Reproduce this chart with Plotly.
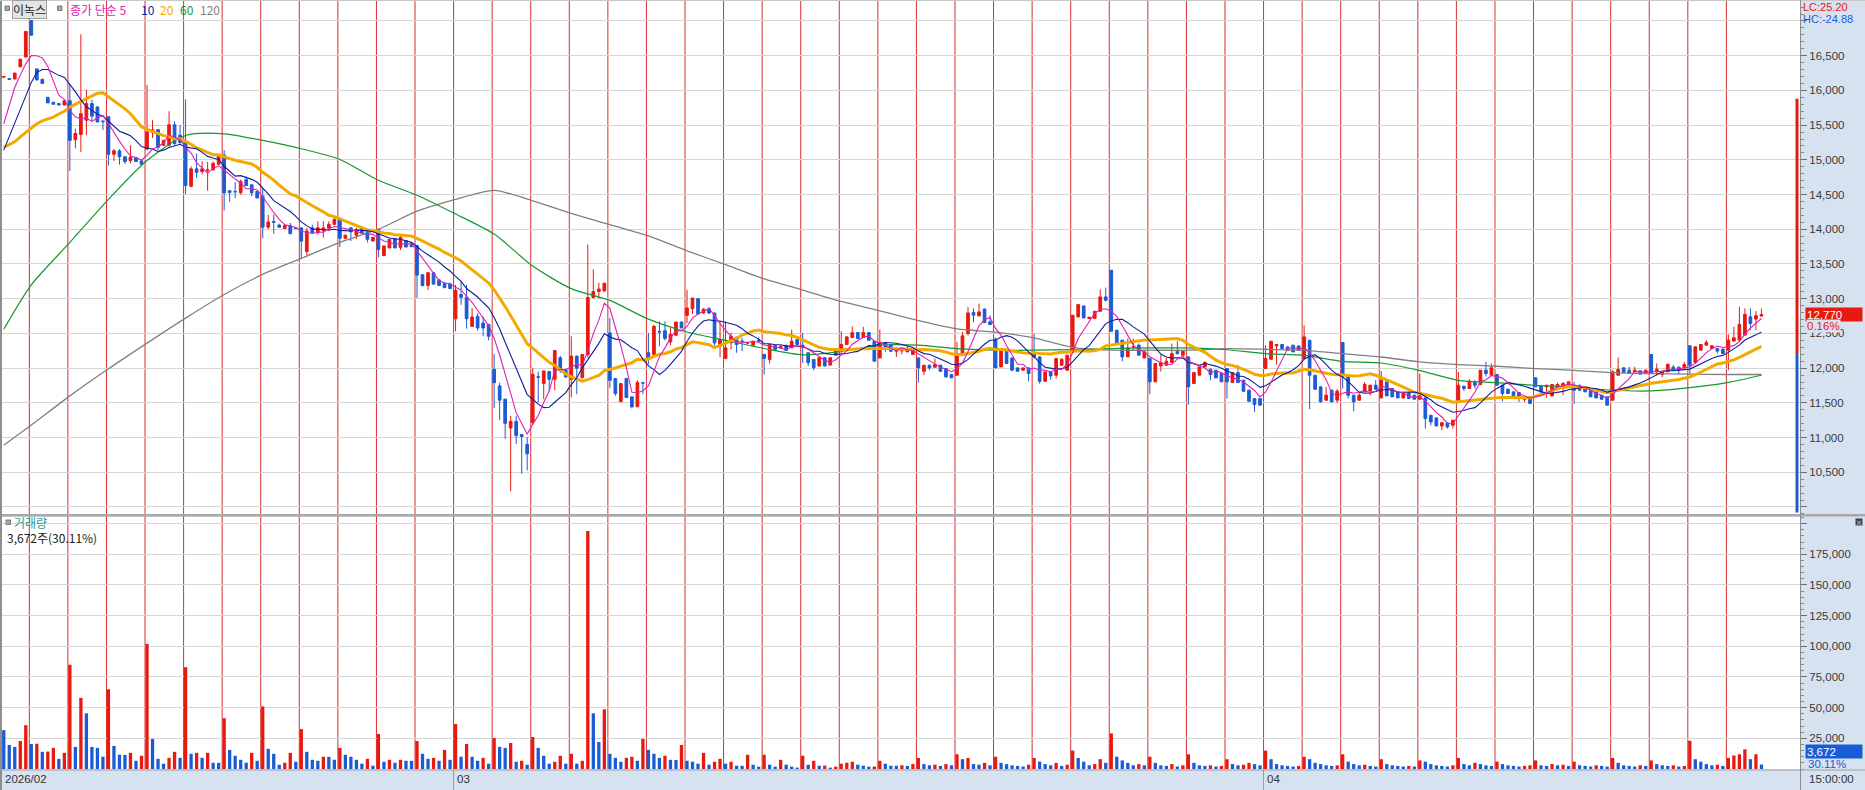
import plotly.graph_objects as go
import pandas as pd

# ---------------- DATA ----------------
trading_days = [
    "2026-02-09", "2026-02-10", "2026-02-11", "2026-02-12", "2026-02-13", "2026-02-19", "2026-02-20",
    "2026-02-23", "2026-02-24", "2026-02-25", "2026-02-26", "2026-02-27",
    "2026-03-03", "2026-03-04", "2026-03-05", "2026-03-06", "2026-03-09", "2026-03-10", "2026-03-11",
    "2026-03-12", "2026-03-13", "2026-03-16", "2026-03-17", "2026-03-18", "2026-03-19", "2026-03-20",
    "2026-03-23", "2026-03-24", "2026-03-25", "2026-03-26", "2026-03-27", "2026-03-30", "2026-03-31",
    "2026-04-01", "2026-04-02", "2026-04-03", "2026-04-06", "2026-04-07", "2026-04-08", "2026-04-09",
    "2026-04-10", "2026-04-13", "2026-04-14", "2026-04-15", "2026-04-16", "2026-04-17",
]
hours = ["09:00", "10:00", "11:00", "12:00", "13:00", "14:00", "15:00"]
first_day_hours = ["11:00", "12:00", "13:00", "14:00", "15:00"]

open_ = [
    16190, 16170, 16165, 16340, 16480,
    17005, 16310, 16160, 15900, 15830, 15810, 15790,
    15850, 15290, 15365, 15570, 15810, 15760, 15560,
    15620, 15080, 15130, 15045, 14990, 15030, 14985,
    15155, 15395, 15435, 15210, 15210, 15505, 15355,
    15250, 14620, 14870, 14830, 14850, 14855, 14935,
    15070, 14555, 14545, 14525, 14715, 14640, 14545,
    14475, 14030, 14110, 14060, 14010, 14055, 14020,
    14020, 13680, 14020, 13950, 13985, 14015, 14070,
    14140, 13870, 14020, 13915, 14020, 14000, 13830,
    14000, 13620, 13730, 13870, 13740, 13835, 13790,
    13765, 13345, 13190, 13375, 13270, 13220, 13210,
    12710, 13060, 13022, 12602, 12745, 12650, 12626,
    11982, 11744, 11553, 11138, 11233, 11043, 10900,
    11219, 11875, 11778, 11950, 11840, 12150, 11968,
    11840, 12173, 11863, 12197, 13017, 13103, 13112,
    12507, 11849, 11520, 11849, 11586, 11443, 11790,
    12221, 12197, 12530, 12540, 12378, 12474, 12664,
    12760, 12855, 13000, 12793, 12855, 12793, 12316,
    12140, 12364, 12445, 12390, 12370, 12330, 12400,
    12197, 12126, 12326, 12290, 12326, 12292, 12411,
    12330, 12221, 12126, 12030, 12150, 12044, 12187,
    12235, 12340, 12440, 12512, 12440, 12512, 12387,
    12147, 12368, 12339, 12243, 12248, 12282, 12195,
    12147, 11955, 12042, 12013, 12042, 11994, 11907,
    11898, 12195, 12498, 12802, 12752, 12850, 12666,
    12416, 12018, 12272, 12147, 12003, 11970, 12003,
    12210, 12162, 11811, 11946, 11898, 12042, 11970,
    12234, 12738, 12896, 12714, 12714, 12819, 13026,
    13410, 12546, 12402, 12162, 12306, 12330, 12147,
    12138, 11802, 12032, 12042, 12080, 12243, 12186,
    12162, 11778, 11898, 12018, 11984, 11970, 11922,
    11994, 11792, 11936, 11826, 11682, 11562, 11562,
    11994, 12128, 12320, 12339, 12306, 12330, 12320,
    12138, 12402, 11898, 11730, 11538, 11682, 11538,
    12370, 11874, 11610, 11538, 11658, 11672, 11754,
    11571, 11802, 11706, 11658, 11571, 11643, 11610,
    11552, 11571, 11321, 11283, 11167, 11210, 11177,
    11538, 11740, 11706, 11792, 11764, 11971, 11898,
    11908, 11754, 11696, 11658, 11648, 11552, 11586,
    11860, 11740, 11730, 11600, 11706, 11716, 11730,
    11754, 11754, 11716, 11682, 11658, 11610, 11586,
    11538, 11898, 12004, 11971, 11946, 11961, 11922,
    12196, 11946, 11908, 11946, 12014, 12014, 12004,
    12322, 12081, 12259, 12331, 12283, 12283, 12274,
    12259, 12389, 12403, 12476, 12740, 12706, 12750,
]
high = [
    16200, 16175, 16250, 16450, 16850,
    17010, 16310, 16165, 15900, 15830, 15810, 15850,
    16090, 15450, 16808, 16012, 15865, 15775, 15560,
    15620, 15155, 15155, 15045, 15212, 15030, 14985,
    16080, 15570, 15435, 15290, 15700, 15555, 15500,
    15870, 14905, 15090, 14980, 14970, 14975, 15080,
    15140, 14560, 14680, 14715, 14760, 14640, 14545,
    14595, 14210, 14210, 14080, 14075, 14090, 14020,
    14020, 14020, 14065, 14115, 14115, 14115, 14175,
    14160, 13915, 14020, 14020, 14020, 14000, 13885,
    14000, 13760, 13855, 13870, 13915, 13840, 13800,
    13775, 13350, 13380, 13380, 13290, 13240, 13230,
    13200, 13256, 13200, 12865, 12790, 12745, 12640,
    12206, 11790, 11560, 11314, 11314, 11050, 11004,
    12006, 11950, 11960, 11960, 12254, 12175, 11990,
    12459, 12180, 12200, 13780, 13423, 13230, 13230,
    12722, 11860, 11777, 11860, 11590, 11825, 11795,
    12507, 12626, 12674, 12674, 12578, 12664, 12670,
    13127, 13017, 13010, 12860, 12880, 12800, 12674,
    12674, 12510, 12450, 12440, 12380, 12390, 12440,
    12200, 12340, 12330, 12330, 12340, 12555, 12415,
    12507, 12225, 12130, 12150, 12155, 12150, 12269,
    12530, 12460, 12600, 12520, 12594, 12520, 12402,
    12555, 12370, 12345, 12260, 12290, 12330, 12260,
    12150, 12042, 12050, 12138, 12050, 12000, 11910,
    12378, 12522, 12882, 12860, 12930, 12860, 12760,
    12440, 12290, 12280, 12150, 12010, 12003, 12010,
    12498, 12170, 11946, 11950, 12140, 12140, 12186,
    12762, 12915, 12900, 12740, 12819, 13136, 13160,
    13410, 12550, 12405, 12426, 12426, 12354, 12258,
    12140, 12066, 12195, 12150, 12354, 12388, 12243,
    12165, 11936, 12018, 12099, 11990, 11975, 11925,
    12000, 11936, 12042, 11830, 11690, 11565, 11565,
    12330, 12387, 12339, 12345, 12310, 12335, 12325,
    12618, 12405, 11900, 11735, 11730, 11690, 11700,
    12375, 11880, 11615, 11650, 11800, 11754, 11826,
    11956, 11805, 11710, 11660, 11643, 11650, 11615,
    11922, 11575, 11325, 11290, 11215, 11215, 11250,
    11946, 11745, 11840, 11830, 11971, 12091, 12067,
    11915, 11760, 11700, 11660, 11650, 11571, 11590,
    11865, 11745, 11760, 11764, 11790, 11800, 11802,
    11802, 11760, 11720, 11690, 11660, 11615, 11590,
    11970, 12153, 12010, 12018, 12018, 11965, 11975,
    12200, 12067, 11960, 12057, 12043, 12018, 12091,
    12325, 12307, 12341, 12404, 12322, 12290, 12280,
    12485, 12596, 12884, 12860, 12860, 12822, 12860,
]
low = [
    16185, 16160, 16160, 16340, 16480,
    16795, 16150, 16100, 15820, 15800, 15790, 15785,
    14840, 15165, 15115, 15355, 15555, 15545, 15430,
    14918, 14985, 14930, 14940, 14950, 14975, 14935,
    15140, 15315, 15140, 15200, 15190, 15210, 15230,
    14505, 14605, 14735, 14790, 14555, 14850, 14930,
    14270, 14395, 14450, 14500, 14630, 14475, 14450,
    13870, 14000, 13935, 14030, 14010, 13935, 14010,
    13570, 13620, 13935, 13925, 13880, 13975, 14070,
    13745, 13860, 13830, 13860, 13945, 13810, 13830,
    13595, 13620, 13730, 13730, 13700, 13735, 13740,
    13010, 13175, 13125, 13200, 13185, 13150, 13140,
    12530, 12912, 12570, 12600, 12540, 12460, 12400,
    11424, 11252, 10980, 10227, 10909, 10480, 10527,
    11181, 11505, 11553, 11672, 11682, 11930, 11860,
    11577, 11625, 11850, 12150, 13000, 13000, 13100,
    11710, 11600, 11505, 11577, 11420, 11440, 11625,
    12054, 12190, 12316, 12400, 12330, 12470, 12578,
    12650, 12780, 12780, 12780, 12780, 12326, 12159,
    12130, 12270, 12221, 12245, 12350, 12330, 12380,
    11911, 12064, 12260, 12280, 12250, 12290, 12340,
    12078, 12030, 11968, 12025, 12030, 12040, 12185,
    12230, 12335, 12430, 12426, 12435, 12402, 12099,
    12140, 12234, 12243, 12162, 12200, 12230, 12195,
    11792, 11898, 11970, 12010, 11950, 11860, 11859,
    11890, 12190, 12470, 12660, 12752, 12656, 12620,
    12003, 12015, 12066, 11955, 11955, 11965, 11811,
    12140, 11778, 11800, 11830, 11850, 12040, 11965,
    12230, 12735, 12723, 12714, 12710, 12815, 12960,
    12531, 12368, 12099, 12160, 12258, 12186, 12140,
    11624, 11800, 11950, 12040, 12075, 12195, 12185,
    11475, 11775, 11898, 12015, 11826, 11859, 11802,
    11562, 11790, 11792, 11667, 11523, 11370, 11466,
    11990, 12125, 12050, 12282, 12258, 12234, 12258,
    12135, 11410, 11696, 11504, 11535, 11514, 11500,
    11706, 11562, 11379, 11535, 11655, 11610, 11690,
    11565, 11600, 11586, 11571, 11565, 11562, 11552,
    11550, 11129, 11177, 11167, 11105, 11129, 11129,
    11535, 11672, 11700, 11706, 11760, 11880, 11895,
    11754, 11523, 11634, 11571, 11514, 11514, 11490,
    11730, 11610, 11571, 11595, 11700, 11610, 11725,
    11485, 11682, 11658, 11586, 11571, 11552, 11466,
    11535, 11895, 11937, 11920, 11940, 11913, 11920,
    11937, 11898, 11870, 11945, 11971, 11913, 12000,
    11922, 12078, 12255, 12330, 12280, 12211, 12211,
    11970, 12385, 12400, 12470, 12548, 12548, 12745,
]
close = [
    16200, 16160, 16250, 16450, 16850,
    16795, 16150, 16100, 15820, 15800, 15790, 15850,
    15280, 15380, 15665, 15810, 15630, 15545, 15550,
    15080, 15130, 15045, 14975, 15040, 14975, 14935,
    15400, 15435, 15180, 15280, 15505, 15235, 15250,
    14630, 14870, 14820, 14870, 14855, 14950, 15070,
    14525, 14530, 14540, 14690, 14630, 14525, 14450,
    14030, 14105, 14100, 14030, 14055, 13935, 14010,
    13830, 13975, 13950, 14020, 14020, 14070, 14140,
    13870, 13915, 13965, 13985, 13945, 13855, 13885,
    13710, 13760, 13855, 13730, 13880, 13745, 13750,
    13340, 13190, 13375, 13210, 13190, 13160, 13145,
    13120, 13020, 12712, 12736, 12578, 12578, 12460,
    11790, 11539, 11205, 11233, 11028, 11015, 10766,
    11910, 11870, 11960, 11840, 12254, 11968, 11873,
    12173, 11997, 12197, 13017, 13103, 13140, 13222,
    11825, 11634, 11777, 11577, 11443, 11792, 11785,
    12126, 12602, 12520, 12426, 12483, 12664, 12578,
    12865, 13008, 12780, 12850, 12793, 12364, 12412,
    12292, 12459, 12340, 12385, 12360, 12388, 12390,
    12140, 12340, 12264, 12310, 12254, 12388, 12340,
    12300, 12078, 12006, 12150, 12030, 12150, 12269,
    12340, 12450, 12512, 12426, 12512, 12402, 12099,
    12368, 12306, 12243, 12258, 12282, 12234, 12258,
    12003, 12042, 12003, 12051, 11955, 11874, 11859,
    12210, 12464, 12795, 12762, 12810, 12656, 12627,
    12003, 12282, 12066, 11970, 11955, 12003, 11922,
    12162, 11811, 11946, 11888, 12138, 12128, 12186,
    12762, 12915, 12723, 12733, 12819, 13026, 12978,
    12531, 12368, 12162, 12291, 12306, 12186, 12234,
    11802, 12066, 12080, 12099, 12210, 12210, 12243,
    11730, 11936, 12018, 12080, 11907, 11859, 11802,
    11802, 11936, 11792, 11667, 11523, 11475, 11466,
    12138, 12387, 12339, 12282, 12258, 12234, 12258,
    12450, 11898, 11696, 11515, 11610, 11514, 11667,
    11884, 11610, 11514, 11610, 11764, 11754, 11696,
    11826, 11600, 11586, 11571, 11643, 11562, 11552,
    11600, 11273, 11225, 11167, 11215, 11153, 11249,
    11754, 11706, 11812, 11754, 11971, 11922, 12004,
    11754, 11634, 11634, 11571, 11571, 11571, 11490,
    11730, 11658, 11754, 11764, 11764, 11778, 11802,
    11682, 11682, 11658, 11586, 11571, 11552, 11466,
    11946, 11980, 11937, 11922, 11971, 11913, 11971,
    11937, 11985, 11956, 12057, 11971, 11971, 12052,
    12043, 12307, 12341, 12370, 12322, 12245, 12211,
    12403, 12437, 12629, 12774, 12644, 12755, 12770,
]
volume = [
    31700, 19600, 18000, 22800, 35700,
    20400, 20600, 14000, 14200, 17200, 8300, 13200,
    85000, 18000, 58000, 45400, 18000, 17200, 10000,
    65000, 18800, 11600, 11500, 13200, 6700, 10800,
    102000, 24500, 8300, 4300, 9100, 14000, 9100,
    83000, 12400, 13200, 9100, 13200, 5100, 5000,
    41400, 15600, 10800, 7500, 5100, 13200, 6700,
    51000, 16400, 12400, 3500, 5100, 13200, 5900,
    32500, 14000, 7500, 6700, 10000, 9900, 7500,
    17200, 11600, 10000, 7500, 4300, 8300, 2700,
    28500, 5900, 7500, 5100, 7500, 6700, 6600,
    22800, 12400, 8300, 9100, 6700, 15600, 7500,
    36600, 10000, 20400, 10000, 6700, 9100, 4300,
    25300, 18000, 17200, 21200, 5900, 6700, 3500,
    26100, 17200, 10800, 4300, 5900, 10800, 4300,
    12400, 4300, 6700, 194000, 45400, 22000, 48600,
    12400, 9100, 5900, 9100, 10000, 6700, 24500,
    15600, 12400, 9100, 10800, 7500, 7400, 19600,
    6700, 5900, 4300, 13200, 3500, 5900, 8300,
    4300, 5900, 2700, 2600, 11600, 3500, 1900,
    11600, 3500, 1900, 7500, 3500, 1900, 1100,
    10800, 3500, 6700, 2700, 2800, 1100, 1900,
    4300, 5100, 5900, 3500, 2700, 1900, 2000,
    6700, 4300, 2700, 2600, 3000, 2500, 4000,
    9000, 4000, 3000, 3500, 2500, 4000, 3000,
    12000, 8000, 9000, 4000, 3500, 5000, 3000,
    10000, 5000, 4000, 3000, 2500, 2000, 3500,
    9000, 6000, 4000, 3000, 5000, 2500, 3500,
    15000, 9000, 6000, 3000, 4000, 8000, 5000,
    29000, 10000, 7000, 5000, 3000, 4000, 3000,
    10000, 5000, 3000, 2500, 4000, 2000, 3000,
    12000, 5000, 3000, 2500, 3000, 2000, 2500,
    8000, 4000, 3000, 3500, 5000, 4000, 3000,
    15000, 8000, 4000, 3000, 2500, 2000, 2500,
    10000, 8000, 5000, 4000, 3000, 2500, 3000,
    12000, 6000, 4000, 3000, 3500, 2500, 2000,
    8000, 4000, 3000, 2500, 2000, 2500, 2000,
    7000, 6000, 4000, 3000, 2500, 2000, 3000,
    9000, 4000, 3000, 5000, 4000, 3000, 2500,
    6000, 4000, 3000, 2500, 2000, 2500, 3000,
    7000, 3000, 2500, 4000, 3000, 3500, 2500,
    6000, 3000, 2500, 2000, 3000, 2500, 2000,
    9000, 5000, 3000, 2500, 2000, 3000, 2500,
    7000, 4000, 3000, 2500, 3000, 2000, 2500,
    23000, 8000, 6000, 4000, 3000, 3500, 2500,
    9000, 11000, 12000, 16000, 8000, 12000, 3672,
]

ma5_head = [15520, 15790, 16045, 16220]
ma10_head = [15140, 15330, 15545, 15735, 15925, 16115, 16260, 16300, 16300]
ma20_head = [15180, 15220, 15260, 15330, 15390, 15450, 15520, 15560, 15590, 15615,
             15660, 15700, 15760, 15800, 15845, 15885, 15925, 15960, 15965]
# 60 / 120 averages read at the first bar, every session's first bar, and the last bar
ma60_read = [12560, 13200, 13810, 14430, 14990, 15350, 15375, 15280, 15160, 15005, 14705, 14490,
             14220, 13930, 13470, 13145, 12975, 12705, 12520, 12400, 12283, 12190, 12240, 12330,
             12330, 12282, 12258, 12258, 12267, 12282, 12291, 12291, 12265, 12208, 12184, 12098,
             12074, 11965, 11824, 11790, 11752, 11728, 11681, 11672, 11718, 11795, 11898]
ma120_read = [10890, 11180, 11600, 11990, 12360, 12720, 13060, 13350, 13580, 13810, 14000, 14260,
              14430, 14560, 14410, 14230, 14066, 13905, 13690, 13490, 13285, 13125, 12960, 12825,
              12685, 12565, 12518, 12435, 12300, 12258, 12258, 12258, 12280, 12272, 12256, 12209,
              12160, 12090, 12051, 12027, 11993, 11969, 11936, 11921, 11913, 11908, 11908]

lc_hc_text = ("LC:25.20", "HC:-24.88")
range_bar = [15880, 12200, 9920]
last_price, last_change = "12,770", "0.16%"
last_volume, last_vol_ratio = "3,672", "30.11%"

# ---------------- BUILD ----------------
dates, times = [], []
for di, d in enumerate(trading_days):
    hs = first_day_hours if di == 0 else hours
    for h in hs:
        dates.append(d)
        times.append(h)
n = len(close)
xs = list(range(n))

s = pd.Series(close, dtype=float)
ma5 = s.rolling(5).mean().tolist()
ma10 = s.rolling(10).mean().tolist()
ma20 = s.rolling(20).mean().tolist()
ma5[:len(ma5_head)] = ma5_head
ma10[:len(ma10_head)] = ma10_head
ma20[:len(ma20_head)] = ma20_head

day_starts = [i for i in range(1, n) if dates[i] != dates[i - 1]]
sample_idx = [0] + day_starts + [n - 1]

RED = "#E8190F"
BLUE = "#1A5CD6"
vol_colors = [RED if (i > 0 and v > volume[i - 1]) else BLUE for i, v in enumerate(volume)]

W, H = 1865, 790
ML, MR, MT, MB = 2, 65, 0, 21
PW = W - ML - MR
PH = H - MT - MB


def ax(px):
    return (px - ML) / PW


def ay(py):
    return (PH + MT - py) / PH


fig = go.Figure()
fig.add_trace(go.Candlestick(
    x=xs, open=open_, high=high, low=low, close=close,
    increasing=dict(line=dict(color=RED, width=1), fillcolor=RED),
    decreasing=dict(line=dict(color=BLUE, width=1), fillcolor=BLUE),
    whiskerwidth=0, hoverinfo="skip", xaxis="x", yaxis="y"))

fig.add_trace(go.Scatter(x=[xs[i] for i in sample_idx], y=ma120_read, mode="lines",
                         line=dict(color="#808080", width=1.3, shape="spline", smoothing=0.7),
                         hoverinfo="skip"))
fig.add_trace(go.Scatter(x=[xs[i] for i in sample_idx], y=ma60_read, mode="lines",
                         line=dict(color="#14982F", width=1.2, shape="spline", smoothing=0.7),
                         hoverinfo="skip"))
fig.add_trace(go.Scatter(x=xs, y=ma20, mode="lines", line=dict(color="#F2A900", width=3),
                         hoverinfo="skip"))
fig.add_trace(go.Scatter(x=xs, y=ma10, mode="lines", line=dict(color="#0B1E9C", width=1.1),
                         hoverinfo="skip"))
fig.add_trace(go.Scatter(x=xs, y=ma5, mode="lines", line=dict(color="#E21DB4", width=1.1),
                         hoverinfo="skip"))

fig.add_trace(go.Bar(x=xs, y=volume, width=0.6, marker=dict(color=vol_colors, line=dict(width=0)),
                     xaxis="x", yaxis="y2", hoverinfo="skip"))

shapes = []
for i in day_starts:
    shapes.append(dict(type="line", xref="x", yref="paper", x0=i - 0.36, x1=i - 0.36, y0=0, y1=1,
                       line=dict(color="#DB2E2E", width=1), layer="between"))
# panel separator
shapes.append(dict(type="rect", xref="paper", yref="paper", x0=ax(0), x1=ax(W), y0=ay(516.5), y1=ay(514),
                   fillcolor="#A9A9A9", line=dict(width=0), layer="above"))
# left border
shapes.append(dict(type="rect", xref="paper", yref="paper", x0=ax(0), x1=ax(2), y0=ay(H), y1=ay(0),
                   fillcolor="#8E8E8E", line=dict(width=0), layer="above"))
# top border
shapes.append(dict(type="line", xref="paper", yref="paper", x0=ax(0), x1=ax(W), y0=ay(0.5), y1=ay(0.5),
                   line=dict(color="#C8C8C8", width=1), layer="above"))
# bottom row border and dividers
shapes.append(dict(type="line", xref="paper", yref="paper", x0=ax(0), x1=ax(W), y0=ay(770), y1=ay(770),
                   line=dict(color="#A0A0A0", width=1), layer="above"))
shapes.append(dict(type="line", xref="paper", yref="paper", x0=ax(1800.5), x1=ax(1800.5), y0=ay(H), y1=ay(0),
                   line=dict(color="#8C8C8C", width=1), layer="above"))
months_seen = {dates[0][:7]}
month_starts = []
for i in day_starts:
    if dates[i][:7] not in months_seen:
        months_seen.add(dates[i][:7])
        month_starts.append(i)
for i in month_starts:
    shapes.append(dict(type="line", xref="x", yref="paper", x0=i - 0.36, x1=i - 0.36, y0=ay(H), y1=ay(770),
                       line=dict(color="#9A9A9A", width=1)))
# range bar (LC/HC)
shapes.append(dict(type="rect", xref="paper", yref="y", x0=ax(1795.5), x1=ax(1798.5),
                   y0=range_bar[1], y1=range_bar[0], fillcolor=RED, line=dict(width=0), layer="above"))
shapes.append(dict(type="rect", xref="paper", yref="y", x0=ax(1795.5), x1=ax(1798.5),
                   y0=range_bar[2], y1=range_bar[1], fillcolor=BLUE, line=dict(width=0), layer="above"))
# legend squares
for (x0, y0) in [(5, 6), (57.5, 6), (6, 520)]:
    shapes.append(dict(type="rect", xref="paper", yref="paper", x0=ax(x0), x1=ax(x0 + 4.5),
                       y0=ay(y0 + 4.5), y1=ay(y0), fillcolor="#A8A8A8",
                       line=dict(color="#7A7A7A", width=1), layer="above"))

KFONT = "Noto Sans CJK KR, Liberation Sans, sans-serif"
NFONT = "Liberation Sans, Arial, sans-serif"
AXBG = "#D7E2F0"
ann = []


def txt(px, py, text, color, size=12, family=KFONT, **kw):
    d = dict(xref="paper", yref="paper", x=ax(px), y=ay(py), text=text, showarrow=False,
             xanchor="left", yanchor="middle", font=dict(color=color, size=size, family=family))
    d.update(kw)
    ann.append(d)


txt(12, 9.5, "이녹스", "#222222", 12, bgcolor="#E4E4E4", bordercolor="#A0A0A0", borderwidth=1, borderpad=0)
txt(68, 9.5, "종가 단순 5", "#E21DB4", 12)
txt(139, 9.5, "10", "#0B1E9C", 12)
txt(158, 9.5, "20", "#F2A900", 12)
txt(178, 9.5, "60", "#14982F", 12)
txt(198, 9.5, "120", "#7F7F7F", 12)
txt(12, 522, "거래량", "#2F9A96", 12)
txt(5, 537, f"{last_volume}주({last_vol_ratio})", "#222222", 12)

txt(1801, 7, lc_hc_text[0], "#E8190F", 11, family=NFONT)
txt(1801, 19, lc_hc_text[1], "#1A5CD6", 11, family=NFONT)

ann.append(dict(xref="paper", yref="y", x=ax(1805), y=12770, text=last_price, showarrow=False,
                xanchor="left", yanchor="middle", align="left", width=54, height=11, borderpad=1,
                bgcolor=RED, font=dict(color="white", size=11.5, family=NFONT)))
txt(1806, 326.5, last_change, "#E8190F", 11.5, family=NFONT, bgcolor=AXBG, borderpad=0)
ann.append(dict(xref="paper", yref="paper", x=ax(1805), y=ay(751), text=last_volume, showarrow=False,
                xanchor="left", yanchor="middle", align="left", width=54, height=11, borderpad=1,
                bgcolor=BLUE, font=dict(color="white", size=11.5, family=NFONT)))
txt(1806, 763.5, last_vol_ratio, "#1A5CD6", 11.5, family=NFONT)
txt(1807, 779, times[-1] + ":00", "#333333", 11.5, family=NFONT)
ann.append(dict(xref="paper", yref="paper", x=ax(1858.8), y=ay(521.8), text="×", showarrow=False,
                xanchor="center", yanchor="middle", width=6, height=6, borderpad=0, bgcolor="#404040",
                font=dict(color="white", size=7, family=KFONT)))

txt(3, 779, dates[0][:7].replace("-", "/"), "#333333", 11.5, family=NFONT)
for i in month_starts:
    ann.append(dict(xref="x", yref="paper", x=i - 0.36, y=ay(779), text=dates[i][5:7], showarrow=False,
                    xanchor="left", yanchor="middle", xshift=1,
                    font=dict(color="#333333", size=11.5, family=NFONT)))

price_ticks = list(range(10000, 17001, 500))
price_text = ["" if v in (10000, 17000) else f"{v:,}" for v in price_ticks]
vol_ticks = list(range(25000, 200001, 25000))
vol_text = ["" if v == 200000 else f"{v:,}" for v in vol_ticks]

fig.update_layout(
    template="none",
    width=W, height=H, margin=dict(l=ML, r=MR, t=MT, b=MB, pad=0, autoexpand=False),
    paper_bgcolor=AXBG, plot_bgcolor="#FFFFFF", showlegend=False, hovermode=False,
    xaxis=dict(range=[-0.318, 326.0], showticklabels=False, showgrid=False, zeroline=False,
               showline=False, ticks="", anchor="y2", rangeslider=dict(visible=False),
               fixedrange=True, automargin=False),
    yaxis=dict(domain=[ay(514), 1], range=[9899, 17302], side="right", tickmode="array",
               tickvals=price_ticks, ticktext=price_text, showgrid=True, gridcolor="#D6D6D6",
               gridwidth=1, ticks="outside", ticklen=6, tickcolor="#6E6E6E", showline=True,
               linecolor="#8C8C8C", linewidth=1, zeroline=False, anchor="x", automargin=False,
               minor=dict(dtick=100, tick0=0, ticks="outside", ticklen=3, tickcolor="#8A8A8A",
                          showgrid=False),
               tickfont=dict(size=11.5, color="#3A3A3A", family=NFONT), fixedrange=True),
    yaxis2=dict(domain=[0, ay(517)], range=[0, 205400], side="right", tickmode="array",
                tickvals=vol_ticks, ticktext=vol_text, showgrid=True, gridcolor="#D6D6D6",
                gridwidth=1, ticks="outside", ticklen=6, tickcolor="#6E6E6E", showline=True,
                linecolor="#8C8C8C", linewidth=1, zeroline=False, anchor="x", automargin=False,
                minor=dict(dtick=5000, tick0=0, ticks="outside", ticklen=3, tickcolor="#8A8A8A",
                           showgrid=False),
                tickfont=dict(size=11.5, color="#3A3A3A", family=NFONT), fixedrange=True),
    shapes=shapes, annotations=ann,
)

fig.write_html("out.html", config={"displayModeBar": False, "staticPlot": True},
               post_script="document.body.style.margin='0px';document.body.style.overflow='hidden';")
